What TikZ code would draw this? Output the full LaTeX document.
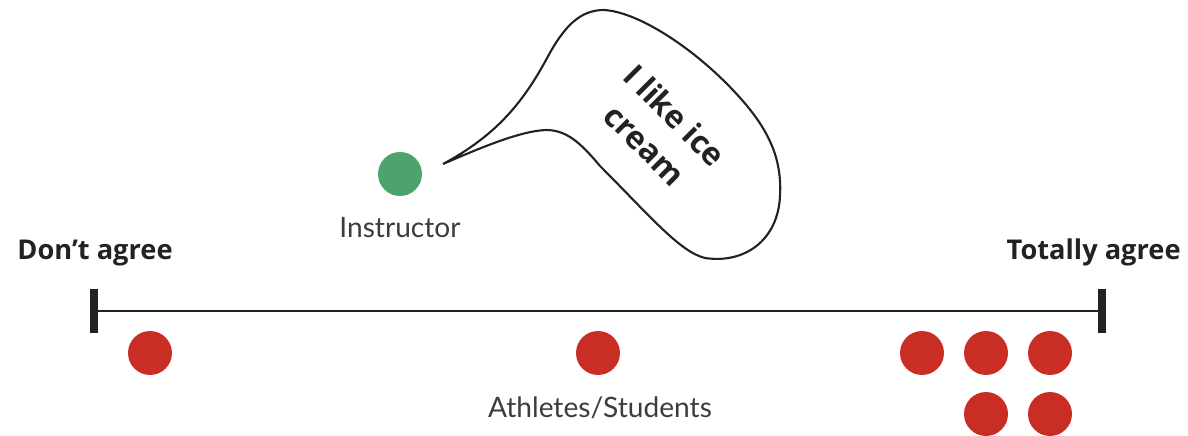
\documentclass[tikz,border=0pt]{standalone}
\usepackage{fontspec}
\setmainfont{Lato}
\newfontfamily\headfont{Open Sans}
\definecolor{dotred}{RGB}{200, 46, 37}
\definecolor{dotgreen}{RGB}{76, 163, 110}
\definecolor{inkgray}{RGB}{34, 34, 34}
\definecolor{labelgray}{RGB}{60, 60, 60}
\usetikzlibrary{positioning}

\tikzset{
  person/.style={circle, minimum size=0.88cm, inner sep=0pt},
  athlete/.style={person, fill=dotred},
  endlabel/.style={font=\headfont\bfseries\fontsize{15.5}{18}\selectfont, text=inkgray, inner sep=0pt},
  grouplabel/.style={font=\fontsize{16}{19}\selectfont, text=labelgray, inner sep=0pt},
}

\begin{document}
\begin{tikzpicture}[x=0.02cm, y=-0.02cm]
  \useasboundingbox (0,0) rectangle (1188,436);

  % Agreement scale
  \node[endlabel, anchor=base west] (dontagree) at (17,259) {Don’t agree};
  \node[endlabel, anchor=base east] (totallyagree) at (1181,259) {Totally agree};
  \coordinate (scaleL) at (94,311);
  \coordinate (scaleR) at (1102,311);
  \draw[line width=1.6pt, inkgray] (scaleL) -- (scaleR);
  \draw[line width=4pt, inkgray] (scaleL) ++(0,-22) -- ++(0,44);
  \draw[line width=4pt, inkgray] (scaleR) ++(0,-22) -- ++(0,44);

  % Athletes on the scale
  \foreach \px/\py [count=\i] in {150/353, 598/353, 922/353, 986/353, 1050/353, 986/414, 1050/414}
    \node[athlete] (athlete\i) at (\px,\py) {};
  \node[grouplabel, anchor=base] (athletes) at (600,417) {Athletes/Students};

  % Instructor and speech bubble
  \node[person, fill=dotgreen] (instructor) at (400,174) {};
  \node[grouplabel, anchor=base] (instructorlabel) at (400,237) {Instructor};
  \coordinate (tip) at (443,164);
  \draw[line width=1.2pt, inkgray, line join=round]
    (tip) .. controls (495,136) and (522,104) .. (546,60)
    .. controls (564,26) and (580,10) .. (604,10)
    .. controls (640,12) and (700,52) .. (742,100)
    .. controls (770,132) and (782,160) .. (780,196)
    .. controls (778,240) and (745,264) .. (705,258)
    .. controls (680,252) and (650,216) .. (600,166)
    .. controls (580,142) and (566,130) .. (546,130)
    .. controls (520,131) and (480,148) .. (tip);
  \node[font=\headfont\bfseries\fontsize{18}{24}\selectfont, text=inkgray, rotate=-45, align=center] (quote) at (660,130) {I like ice\\cream};
\end{tikzpicture}
\end{document}
